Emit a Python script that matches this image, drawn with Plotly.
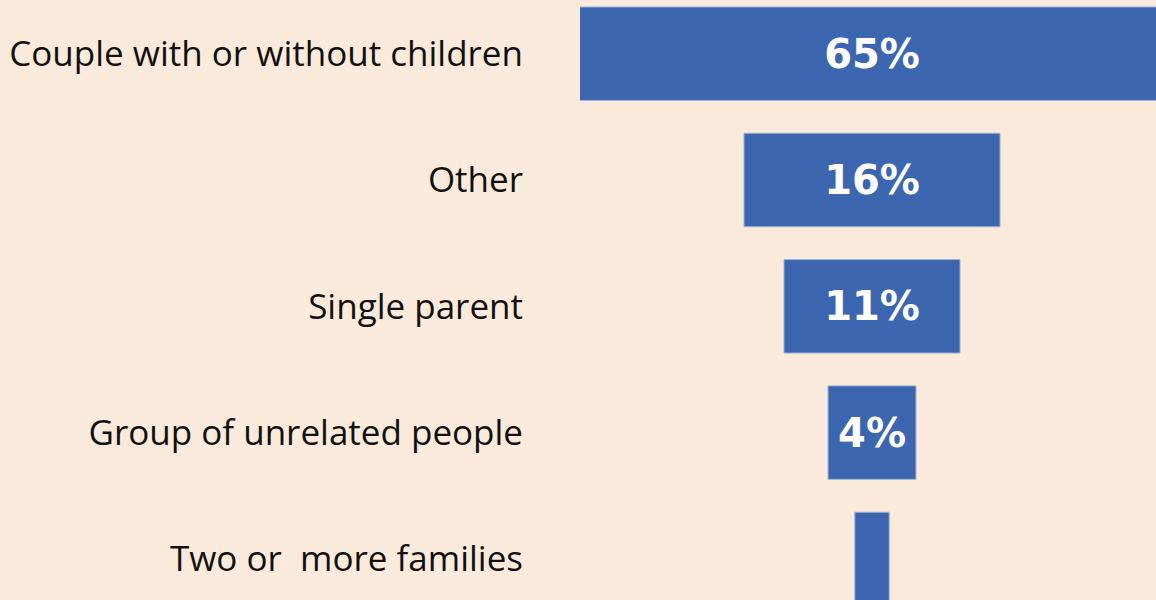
import plotly.graph_objects as go

categories = ["Couple with or without children", "Other", "Single parent",
              "Group of unrelated people", "Two or  more families"]
bar_widths = [65, 16, 11, 5.5, 2.15]
bar_labels = ["65%", "16%", "11%", "4%", "2%"]

fig = go.Figure(go.Funnel(
    y=categories,
    x=bar_widths,
    text=bar_labels,
    textinfo="text",
    textposition="inside",
    insidetextanchor="middle",
    textfont=dict(family="DejaVu Sans", size=40, color="white", weight="bold"),
    marker=dict(color="#3C67B0", line=dict(color="#9fb3d9", width=1)),
    connector=dict(visible=False),
))

fig.update_layout(
    width=1156, height=600,
    margin=dict(l=580, r=0, t=0, b=0),
    paper_bgcolor="#FAEADB",
    plot_bgcolor="#FAEADB",
    showlegend=False,
    funnelgap=0.26,
    uniformtext=dict(mode="hide", minsize=40),
    xaxis=dict(range=[-18.25, 17.75], visible=False, showgrid=False, zeroline=False),
    yaxis=dict(range=[4.325, -0.425], showgrid=False, zeroline=False, showline=False,
               ticks="", ticklabelstandoff=56,
               tickfont=dict(family="Open Sans", size=35, color="#111111")),
)

fig.write_html("out.html", config={"displayModeBar": False},
               post_script="document.body.style.margin='0';")
